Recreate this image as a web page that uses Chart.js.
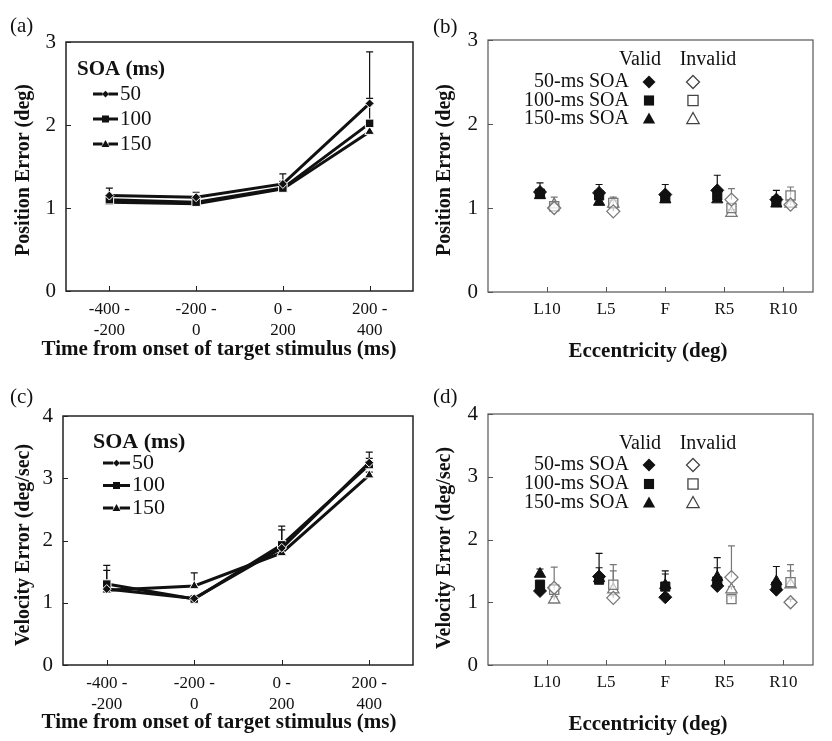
<!DOCTYPE html>
<html>
<head>
<meta charset="utf-8">
<script src="https://cdn.jsdelivr.net/npm/chart.js@4.4.1/dist/chart.umd.min.js"></script>
<style>
  body { margin: 0; background: #fff; }
  #wrap { position: relative; width: 832px; height: 741px; }
  canvas { position: absolute; }
</style>
</head>
<body>
<div id="wrap">
  <canvas id="chartA" style="left:0;top:0" width="420" height="370"></canvas>
  <canvas id="chartB" style="left:420px;top:0" width="412" height="370"></canvas>
  <canvas id="chartC" style="left:0;top:370px" width="420" height="371"></canvas>
  <canvas id="chartD" style="left:420px;top:370px" width="412" height="371"></canvas>
</div>
<script>
// categories
const timeBins = [['-400 -', '-200'], ['-200 -', '0'], ['0 -', '200'], ['200 -', '400']];
const eccLabels = ['L10', 'L5', 'F', 'R5', 'R10'];
const soaNames = ['50', '100', '150'];
const soaRowNames = ['50-ms SOA', '100-ms SOA', '150-ms SOA'];

// (a) position error by time bin
const posTime50 = [1.15, 1.13, 1.29, 2.26];
const posTime100 = [1.10, 1.07, 1.24, 2.02];
const posTime150 = [1.07, 1.05, 1.23, 1.92];
const posTimeSem50 = [0.09, 0.06, 0.12, 0.62];
const posTimeSem100 = [0.05, 0.04, 0.08, 0.30];
const posTimeSem150 = [0.03, 0.03, 0.05, 0.08];

// (c) velocity error by time bin
const velTime50 = [1.22, 1.07, 1.88, 3.25];
const velTime100 = [1.30, 1.06, 1.93, 3.22];
const velTime150 = [1.20, 1.27, 1.80, 3.05];
const velTimeSem50 = [0.30, 0.04, 0.29, 0.17];
const velTimeSem100 = [0.30, 0.04, 0.30, 0.10];
const velTimeSem150 = [0.05, 0.21, 0.06, 0.05];

// (b) position error by eccentricity
const posValid50 = [1.19, 1.18, 1.16, 1.21, 1.10];
const posValid100 = [1.17, 1.15, 1.12, 1.15, 1.08];
const posValid150 = [1.15, 1.07, 1.10, 1.10, 1.05];
const posInvalid50 = [1.00, 0.96, null, 1.10, 1.04];
const posInvalid100 = [1.02, 1.06, null, 1.00, 1.15];
const posInvalid150 = [1.04, 1.05, null, 0.94, 1.05];
const posValidSem50 = [0.11, 0.10, 0.12, 0.18, 0.11];
const posValidSem100 = [0.04, 0.04, 0.04, 0.05, 0.04];
const posValidSem150 = [0.03, 0.03, 0.03, 0.04, 0.03];
const posInvalidSem50 = [0.04, 0.04, null, 0.13, 0.04];
const posInvalidSem100 = [0.04, 0.07, null, 0.04, 0.10];
const posInvalidSem150 = [0.09, 0.04, null, 0.04, 0.04];

// (d) velocity error by eccentricity
const velValid50 = [1.18, 1.41, 1.08, 1.26, 1.20];
const velValid100 = [1.28, 1.36, 1.25, 1.33, 1.25];
const velValid150 = [1.45, 1.38, 1.27, 1.40, 1.33];
const velInvalid50 = [1.23, 1.07, null, 1.40, 1.00];
const velInvalid100 = [1.20, 1.28, null, 1.05, 1.32];
const velInvalid150 = [1.04, 1.20, null, 1.20, 1.28];
const velValidSem50 = [0.05, 0.37, 0.05, 0.05, 0.05];
const velValidSem100 = [0.05, 0.19, 0.20, 0.22, 0.05];
const velValidSem150 = [0.08, 0.05, 0.23, 0.31, 0.24];
const velInvalidSem50 = [0.05, 0.05, null, 0.50, 0.05];
const velInvalidSem100 = [0.36, 0.32, null, 0.05, 0.28];
const velInvalidSem150 = [0.05, 0.30, null, 0.05, 0.22];

const SERIF = '"Liberation Serif", "DejaVu Serif", serif';
const markers = ['rectRot', 'rect', 'triangle'];
const lineMarkerR = [4.5, 6, 5.5];

// simple marker drawing for the legends
function drawMarker(ctx, style, x, y, r, fill, stroke) {
  ctx.beginPath();
  if (style === 'rectRot') {
    ctx.moveTo(x, y - r); ctx.lineTo(x + r, y); ctx.lineTo(x, y + r); ctx.lineTo(x - r, y);
  } else if (style === 'rect') {
    const h = r * 0.78;
    ctx.rect(x - h, y - h, 2 * h, 2 * h);
  } else {
    ctx.moveTo(x, y - r); ctx.lineTo(x + r * 0.95, y + r * 0.7); ctx.lineTo(x - r * 0.95, y + r * 0.7);
  }
  ctx.closePath();
  if (fill) { ctx.fillStyle = fill; ctx.fill(); }
  if (stroke) { ctx.strokeStyle = stroke; ctx.lineWidth = 1.3; ctx.stroke(); }
}

// box round the plot with inward ticks
const framePlugin = {
  id: 'frame',
  beforeDatasetsDraw(chart, args, opts) {
    const { ctx, chartArea: a, scales: { x, y } } = chart;
    ctx.save();
    ctx.strokeStyle = opts.color;
    ctx.lineWidth = opts.width;
    ctx.strokeRect(a.left, a.top, a.right - a.left, a.bottom - a.top);
    ctx.lineWidth = 1;
    x.ticks.forEach((t, i) => {
      const px = Math.round(x.getPixelForTick(i)) + 0.5;
      ctx.beginPath(); ctx.moveTo(px, a.bottom); ctx.lineTo(px, a.bottom - 5); ctx.stroke();
    });
    y.ticks.forEach((t, i) => {
      const py = Math.round(y.getPixelForTick(i)) + 0.5;
      ctx.beginPath(); ctx.moveTo(a.left, py); ctx.lineTo(a.left + 5, py); ctx.stroke();
    });
    ctx.restore();
  }
};

// upward error bars: line charts use ds.sem[i], scatter points carry their own e
const errorBarPlugin = {
  id: 'errorBars',
  beforeDatasetsDraw(chart) {
    const ctx = chart.ctx;
    const yScale = chart.scales.y;
    ctx.save();
    chart.data.datasets.forEach((ds, di) => {
      const meta = chart.getDatasetMeta(di);
      ctx.strokeStyle = ds.errColor;
      ctx.lineWidth = 1.2;
      meta.data.forEach((pt, i) => {
        const raw = ds.data[i];
        if (raw == null) return;
        const v = typeof raw === 'object' ? raw.y : raw;
        const e = typeof raw === 'object' ? raw.e : (ds.sem ? ds.sem[i] : null);
        if (e == null) return;
        const top = yScale.getPixelForValue(v + e);
        ctx.beginPath();
        ctx.moveTo(pt.x, pt.y); ctx.lineTo(pt.x, top);
        ctx.moveTo(pt.x - 3.5, top); ctx.lineTo(pt.x + 3.5, top);
        ctx.stroke();
      });
    });
    ctx.restore();
  }
};

// titles and panel letters
const textPlugin = {
  id: 'panelText',
  afterDraw(chart, args, opts) {
    const ctx = chart.ctx;
    (opts.items || []).forEach(t => {
      ctx.save();
      ctx.font = t.font;
      ctx.fillStyle = '#111';
      ctx.textAlign = t.align || 'center';
      ctx.textBaseline = 'middle';
      ctx.translate(t.x, t.y);
      if (t.rotate) ctx.rotate(t.rotate);
      ctx.fillText(t.text, 0, 0);
      ctx.restore();
    });
  }
};

// "SOA (ms)" legend of the line panels
const soaLegendPlugin = {
  id: 'soaLegend',
  afterDraw(chart, args, o) {
    const ctx = chart.ctx;
    ctx.save();
    ctx.fillStyle = '#111';
    ctx.textBaseline = 'middle';
    ctx.textAlign = 'left';
    ctx.font = o.titleFont;
    ctx.fillText('SOA (ms)', o.titleX, o.titleY);
    ctx.font = o.font;
    chart.data.datasets.forEach((ds, i) => {
      const y = o.y + i * o.gap;
      ctx.strokeStyle = '#111';
      ctx.lineWidth = 3;
      ctx.beginPath();
      ctx.moveTo(o.x, y); ctx.lineTo(o.x + o.len * 0.38, y);
      ctx.moveTo(o.x + o.len * 0.62, y); ctx.lineTo(o.x + o.len, y);
      ctx.stroke();
      drawMarker(ctx, ds.pointStyle, o.x + o.len / 2, y, ds.pointRadius * 0.75, '#111', null);
      ctx.fillStyle = '#111';
      ctx.fillText(ds.label, o.x + o.len + 2, y);
    });
    ctx.restore();
  }
};

// Valid / Invalid legend of the eccentricity panels
const cueLegendPlugin = {
  id: 'cueLegend',
  afterDraw(chart, args, o) {
    const ctx = chart.ctx;
    ctx.save();
    ctx.fillStyle = '#111';
    ctx.textBaseline = 'middle';
    ctx.font = o.font;
    ctx.textAlign = 'center';
    ctx.fillText('Valid', o.validX, o.headY);
    ctx.fillText('Invalid', o.invalidX, o.headY);
    soaRowNames.forEach((name, i) => {
      const y = o.rowY + i * o.gap;
      ctx.textAlign = 'right';
      ctx.fillStyle = '#111';
      ctx.fillText(name, o.labelRight, y);
      drawMarker(ctx, markers[i], o.validMarkX, y, 6.5, '#111', null);
      drawMarker(ctx, markers[i], o.invalidMarkX, y, 6.5, '#fff', '#444');
    });
    ctx.restore();
  }
};

function baseScales(area, H, yMax, xFontSize) {
  return {
    y: {
      min: 0, max: yMax,
      grid: { display: false, drawTicks: false },
      border: { display: false },
      ticks: { stepSize: 1, padding: 10, color: '#111', font: { family: SERIF, size: 21 } },
      afterFit: s => { s.width = area.left; }
    },
    xBase: {
      grid: { display: false, drawTicks: false },
      border: { display: false },
      ticks: { padding: 9, maxRotation: 0, autoSkip: false, color: '#111',
               font: { family: SERIF, size: xFontSize, lineHeight: 1.18 } },
      afterFit: s => { s.height = H - area.bottom; }
    }
  };
}

function makeLinePanel(id, area, yMax, series, sems, texts, legend, frameColor) {
  const cv = document.getElementById(id);
  const W = cv.width, H = cv.height;
  const sc = baseScales(area, H, yMax, 17);
  new Chart(cv, {
    type: 'line',
    data: {
      labels: timeBins,
      datasets: series.map((d, i) => ({
        label: soaNames[i],
        data: d,
        sem: sems[i],
        errColor: '#111',
        borderColor: '#111',
        borderWidth: 3,
        tension: 0,
        pointStyle: markers[i],
        pointRadius: lineMarkerR[i],
        pointBackgroundColor: '#111',
        pointBorderColor: '#fff',
        pointBorderWidth: 1
      }))
    },
    options: {
      responsive: false,
      animation: false,
      layout: { padding: { top: area.top, right: W - area.right, left: 0, bottom: 0 } },
      scales: { x: Object.assign({ type: 'category', offset: true }, sc.xBase), y: sc.y },
      plugins: {
        legend: { display: false },
        tooltip: { enabled: false },
        frame: { color: frameColor, width: 1.5 },
        panelText: { items: texts },
        soaLegend: legend
      }
    },
    plugins: [framePlugin, errorBarPlugin, textPlugin, soaLegendPlugin]
  });
}

function makeEccPanel(id, area, yMax, valid, invalid, validSem, invalidSem, texts, legend) {
  const cv = document.getElementById(id);
  const W = cv.width, H = cv.height;
  const sc = baseScales(area, H, yMax, 17);
  const shift = 0.12;
  // valid sits left of the tick, invalid right of it; F has one centred group
  const toPoints = (arr, sem, side) => arr
    .map((v, i) => v == null ? null :
      ({ x: i + 1 + (eccLabels[i] === 'F' ? 0 : side * shift), y: v, e: sem[i] }))
    .filter(p => p !== null);
  const datasets = [];
  valid.forEach((d, i) => datasets.push({
    label: soaRowNames[i] + ' valid', data: toPoints(d, validSem[i], -1), errColor: '#111',
    pointStyle: markers[i], pointRadius: 6.5, pointBackgroundColor: '#111', pointBorderColor: '#111',
    pointBorderWidth: 1, showLine: false
  }));
  invalid.forEach((d, i) => datasets.push({
    label: soaRowNames[i] + ' invalid', data: toPoints(d, invalidSem[i], 1), errColor: '#777',
    pointStyle: markers[i], pointRadius: 6.5, pointBackgroundColor: 'rgba(255,255,255,0.55)',
    pointBorderColor: '#777', pointBorderWidth: 1.3, showLine: false
  }));
  new Chart(cv, {
    type: 'scatter',
    data: { datasets: datasets },
    options: {
      responsive: false,
      animation: false,
      layout: { padding: { top: area.top, right: W - area.right, left: 0, bottom: 0 } },
      scales: {
        x: Object.assign({
          type: 'linear', min: 0, max: 5.5,
          afterBuildTicks: s => { s.ticks = eccLabels.map((_, i) => ({ value: i + 1 })); }
        }, sc.xBase, {
          ticks: Object.assign({}, sc.xBase.ticks, { padding: 8, callback: v => eccLabels[v - 1] })
        }),
        y: sc.y
      },
      plugins: {
        legend: { display: false },
        tooltip: { enabled: false },
        frame: { color: '#555', width: 1.2 },
        panelText: { items: texts },
        cueLegend: legend
      }
    },
    plugins: [framePlugin, errorBarPlugin, textPlugin, cueLegendPlugin]
  });
}

const letterFont = '21px ' + SERIF;
const titleFont = 'bold 20px ' + SERIF;
const xTitleFont = 'bold 21px ' + SERIF;
const up = -Math.PI / 2;

makeLinePanel('chartA', { left: 66, right: 416, top: 42, bottom: 291 }, 3,
  [posTime50, posTime100, posTime150], [posTimeSem50, posTimeSem100, posTimeSem150],
  [
    { text: '(a)', x: 10, y: 26, font: letterFont, align: 'left' },
    { text: 'Position Error (deg)', x: 24, y: 170, font: titleFont, rotate: up },
    { text: 'Time from onset of target stimulus (ms)', x: 219, y: 350, font: xTitleFont }
  ],
  { titleFont: 'bold 21px ' + SERIF, titleX: 77, titleY: 70, font: '21px ' + SERIF,
    x: 93, y: 94, gap: 25, len: 25 }, '#222');

makeEccPanel('chartB', { left: 68, right: 393, top: 40, bottom: 292 }, 3,
  [posValid50, posValid100, posValid150], [posInvalid50, posInvalid100, posInvalid150],
  [posValidSem50, posValidSem100, posValidSem150], [posInvalidSem50, posInvalidSem100, posInvalidSem150],
  [
    { text: '(b)', x: 13, y: 27, font: letterFont, align: 'left' },
    { text: 'Position Error (deg)', x: 25, y: 170, font: titleFont, rotate: up },
    { text: 'Eccentricity (deg)', x: 228, y: 352, font: xTitleFont }
  ],
  { font: '20px ' + SERIF, headY: 60, validX: 220, invalidX: 288, rowY: 82, gap: 18.5,
    labelRight: 209, validMarkX: 229, invalidMarkX: 273 });

makeLinePanel('chartC', { left: 63, right: 415, top: 46, bottom: 295 }, 4,
  [velTime50, velTime100, velTime150], [velTimeSem50, velTimeSem100, velTimeSem150],
  [
    { text: '(c)', x: 10, y: 27, font: letterFont, align: 'left' },
    { text: 'Velocity Error (deg/sec)', x: 24, y: 175, font: titleFont, rotate: up },
    { text: 'Time from onset of target stimulus (ms)', x: 219, y: 353, font: xTitleFont }
  ],
  { titleFont: 'bold 22px ' + SERIF, titleX: 93, titleY: 72, font: '22px ' + SERIF,
    x: 103, y: 93, gap: 22.5, len: 27 }, '#222');

makeEccPanel('chartD', { left: 68, right: 393, top: 44, bottom: 295 }, 4,
  [velValid50, velValid100, velValid150], [velInvalid50, velInvalid100, velInvalid150],
  [velValidSem50, velValidSem100, velValidSem150], [velInvalidSem50, velInvalidSem100, velInvalidSem150],
  [
    { text: '(d)', x: 13, y: 27, font: letterFont, align: 'left' },
    { text: 'Velocity Error (deg/sec)', x: 25, y: 178, font: titleFont, rotate: up },
    { text: 'Eccentricity (deg)', x: 228, y: 355, font: xTitleFont }
  ],
  { font: '20px ' + SERIF, headY: 74, validX: 220, invalidX: 288, rowY: 95, gap: 19,
    labelRight: 209, validMarkX: 229, invalidMarkX: 273 });
</script>
</body>
</html>
